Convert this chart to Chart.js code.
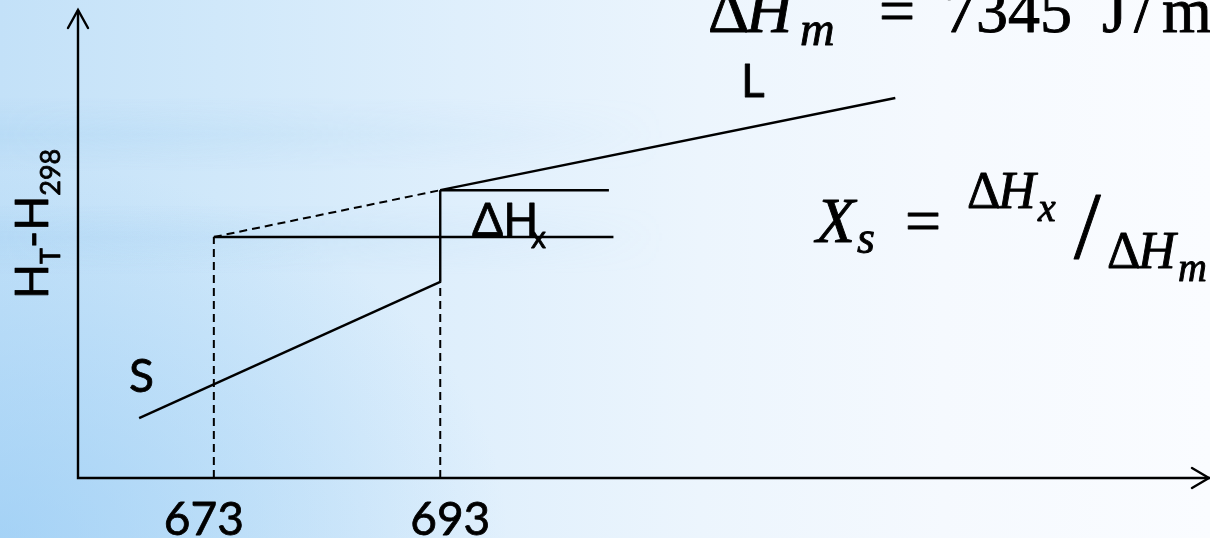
<!DOCTYPE html>
<html>
<head>
<meta charset="utf-8">
<title>H-T diagram</title>
<script src="https://cdn.jsdelivr.net/npm/chart.js@4.4.1/dist/chart.umd.min.js"></script>
<style>
    html, body {
        margin: 0;
        padding: 0;
        overflow: hidden;
    }

    #wrap {
        position: relative;
        width: 1210px;
        height: 538px;
        background:
            radial-gradient(ellipse 42% 70% at 0% 100%, rgba(140, 198, 244, 0.55), rgba(140, 198, 244, 0) 100%),
            linear-gradient(90deg, #c3e1f8 0%, #d0e8fa 18%, #dfeffc 38%, #ecf5fd 58%, #f5f9fe 78%, #fafcff 100%);
    }

    #bands {
        position: absolute;
        inset: 0;
        background: linear-gradient(180deg,
            rgba(160, 206, 242, 0) 18%,
            rgba(160, 206, 242, 0.28) 25%,
            rgba(160, 206, 242, 0) 32%,
            rgba(160, 206, 242, 0) 38%,
            rgba(160, 206, 242, 0.28) 44%,
            rgba(160, 206, 242, 0) 51%);
        -webkit-mask-image: linear-gradient(90deg, #000 0%, rgba(0, 0, 0, 0) 55%);
        mask-image: linear-gradient(90deg, #000 0%, rgba(0, 0, 0, 0) 55%);
    }

    #hChart {
        position: absolute;
        left: 0;
        top: 0;
    }
</style>
</head>
<body>
<div id="wrap">
    <div id="bands"></div>
    <canvas id="hChart" width="1210" height="538"></canvas>
</div>

<script>

// temperature (K) and enthalpy (arbitrary units)
const tempRange = [661, 761];
const enthalpyRange = [0, 100];

const tempTicks = [673, 693];
const tempTickLabels = ["673", "693"];

const axisT = [661, 661, 761];
const axisH = [100, 0, 0];

const solidT = [666.4, 693];
const solidH = [12.8, 41.9];

const liquidT = [693, 733.2];
const liquidH = [61.5, 81.2];

const supercooledT = [673, 693];
const supercooledH = [51.5, 61.5];

const jumpT = [693, 693];
const jumpH = [41.9, 61.5];

const upperLevelT = [693, 707.9];
const upperLevelH = [61.5, 61.5];

const lowerLevelT = [673, 708.3];
const lowerLevelH = [51.5, 51.5];

const guide673T = [673, 673];
const guide673H = [0, 51.5];

const guide693T = [693, 693];
const guide693H = [0, 41.9];


const SANS = "Lato, 'Open Sans', sans-serif";
const SERIF = "'Liberation Serif', 'DejaVu Serif', serif";

let chart = null;

function segment(xs, ys, dashed) {

    return {

        data: xs.map((x, i) => ({ x: x, y: ys[i] })),

        showLine: true,

        borderColor: "#000",

        borderWidth: dashed ? 2 : 2.4,

        borderDash: dashed ? [8, 5] : [],

        pointRadius: 0,

        fill: false,

        clip: false

    };

}

// text with a thin outline so it reads as heavy as the line work
function drawParts(ctx, parts, weight) {

    parts.forEach(p => {

        ctx.font = p[1];

        ctx.fillText(p[0], p[2], p[3]);

        ctx.lineWidth = weight;

        ctx.strokeText(p[0], p[2], p[3]);

    });

}

const decorations = {

    id: "decorations",

    afterDatasetsDraw(c) {

        const ctx = c.ctx;
        const x = c.scales.x;
        const y = c.scales.y;

        ctx.save();

        // arrow heads on the axes
        const yTip = { px: x.getPixelForValue(axisT[0]), py: y.getPixelForValue(axisH[0]) };
        const xTip = { px: x.getPixelForValue(axisT[2]), py: y.getPixelForValue(axisH[2]) };

        ctx.strokeStyle = "#000";
        ctx.lineWidth = 2.4;
        ctx.lineCap = "round";
        ctx.lineJoin = "miter";

        ctx.beginPath();
        ctx.moveTo(yTip.px - 10, yTip.py + 18);
        ctx.lineTo(yTip.px, yTip.py);
        ctx.lineTo(yTip.px + 10, yTip.py + 18);
        ctx.stroke();

        ctx.beginPath();
        ctx.moveTo(xTip.px - 18, xTip.py - 10);
        ctx.lineTo(xTip.px - 1, xTip.py);
        ctx.lineTo(xTip.px - 18, xTip.py + 10);
        ctx.stroke();

        ctx.fillStyle = "#000";
        ctx.textBaseline = "alphabetic";
        ctx.lineJoin = "round";

        // temperature labels
        ctx.textAlign = "center";

        const tickShift = [-10, 10];

        drawParts(ctx, tempTicks.map((t, i) => [
            tempTickLabels[i],
            "46px " + SANS,
            x.getPixelForValue(t) + tickShift[i],
            535
        ]), 0.8);

        ctx.textAlign = "left";

        // phase labels
        drawParts(ctx, [
            ["S", "46px " + SANS, 129, 392],
            ["L", "46px " + SANS, 741, 97],
            ["ΔH", "46px " + SANS, 472, 236],
            ["x", "30px " + SANS, 531, 248]
        ], 0.8);

        // vertical axis title
        ctx.save();
        ctx.translate(48, 299);
        ctx.rotate(-Math.PI / 2);

        let pos = 0;

        [
            ["H", "46px " + SANS, 0],
            ["T", "27px " + SANS, 12],
            ["-", "46px " + SANS, 0],
            ["H", "46px " + SANS, 0],
            ["298", "27px " + SANS, 12]
        ].forEach(p => {

            drawParts(ctx, [[p[0], p[1], pos, p[2]]], 0.8);
            pos += ctx.measureText(p[0]).width;

        });

        ctx.restore();

        // formulas
        drawParts(ctx, [
            ["Δ", "64px " + SERIF, 708, 32],
            ["H", "italic 64px " + SERIF, 746, 32],
            ["′", "44px " + SERIF, 788, 10],
            ["m", "italic 48px " + SERIF, 800, 45],
            ["=", "64px " + SERIF, 879, 32],
            ["7345", "64px " + SERIF, 944, 32],
            ["J", "64px " + SERIF, 1102, 32],
            ["/", "64px " + SERIF, 1134, 32],
            ["mol", "64px " + SERIF, 1162, 32]
        ], 0.9);

        drawParts(ctx, [
            ["X", "italic 64px " + SERIF, 816, 242],
            ["s", "italic 46px " + SERIF, 857, 253],
            ["=", "64px " + SERIF, 905, 242],
            ["Δ", "52px " + SERIF, 967, 208],
            ["H", "italic 52px " + SERIF, 998, 208],
            ["x", "italic 40px " + SERIF, 1038, 221],
            ["/", "96px " + SERIF, 1074, 258],
            ["Δ", "52px " + SERIF, 1107, 268],
            ["H", "italic 52px " + SERIF, 1138, 268],
            ["m", "italic 40px " + SERIF, 1178, 281]
        ], 0.9);

        ctx.restore();

    }

};

function drawChart() {

    const ctx =
        document
            .getElementById("hChart")
            .getContext("2d");

    if (chart)
        chart.destroy();

    chart = new Chart(ctx, {

        type: "scatter",

        data: {

            datasets: [

                segment(axisT, axisH, false),

                segment(solidT, solidH, false),

                segment(liquidT, liquidH, false),

                segment(supercooledT, supercooledH, true),

                segment(jumpT, jumpH, false),

                segment(upperLevelT, upperLevelH, false),

                segment(lowerLevelT, lowerLevelH, false),

                segment(guide673T, guide673H, true),

                segment(guide693T, guide693H, true)

            ]

        },

        options: {

            responsive: false,

            animation: false,

            events: [],

            layout: {

                padding: {

                    left: 78,

                    right: 0,

                    top: 10,

                    bottom: 60

                }

            },

            plugins: {

                legend: {

                    display: false

                },

                tooltip: {

                    enabled: false

                }

            },

            scales: {

                x: {

                    type: "linear",

                    min: tempRange[0],

                    max: tempRange[1],

                    display: false

                },

                y: {

                    type: "linear",

                    min: enthalpyRange[0],

                    max: enthalpyRange[1],

                    display: false

                }

            }

        },

        plugins: [decorations]

    });

}

drawChart();

</script>
</body>
</html>
